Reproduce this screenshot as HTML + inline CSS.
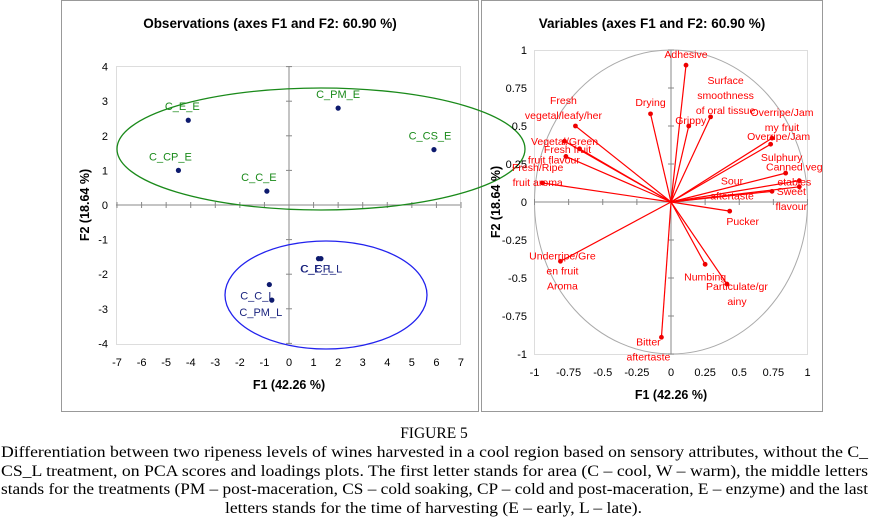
<!DOCTYPE html>
<html><head><meta charset="utf-8"><style>
body{margin:0;background:#fff;width:869px;height:523px;overflow:hidden}
svg{display:block;font-family:"Liberation Sans",Arial,sans-serif}
</style></head><body>
<svg id="s" width="869" height="523" viewBox="0 0 869 523">
<rect x="61.5" y="0.5" width="417" height="411" fill="none" stroke="#999"/>
<rect x="481.5" y="0.5" width="341" height="411" fill="none" stroke="#999"/>
<text x="270" y="28" font-size="13.5" font-weight="bold" text-anchor="middle">Observations (axes F1 and F2: 60.90 %)</text>
<text x="652" y="28" font-size="13.5" font-weight="bold" text-anchor="middle">Variables (axes F1 and F2: 60.90 %)</text>
<g id="L"></g><g id="R"></g>
<g font-family="'Liberation Serif',serif" font-size="15.5" fill="#000">
<text x="434" y="438" text-anchor="middle">FIGURE 5</text>
<text x="1" y="457" textLength="867" lengthAdjust="spacingAndGlyphs">Differentiation between two ripeness levels of wines harvested in a cool region based on sensory attributes, without the C_</text>
<text x="1" y="476" textLength="867" lengthAdjust="spacingAndGlyphs">CS_L treatment, on PCA scores and loadings plots. The first letter stands for area (C – cool, W – warm), the middle letters</text>
<text x="1" y="494" textLength="867" lengthAdjust="spacingAndGlyphs">stands for the treatments (PM – post-maceration, CS – cold soaking, CP – cold and post-maceration, E – enzyme) and the last</text>
<text x="225" y="513" textLength="417" lengthAdjust="spacingAndGlyphs">letters stands for the time of harvesting (E – early, L – late).</text>
</g>
</svg>
<script>
// Observations data
const obsNames=["C_E_E","C_CP_E","C_C_E","C_PM_E","C_CS_E","C_CP_L","C_E_L","C_C_L","C_PM_L"];
const obsF1=[-4.1,-4.5,-0.9,2.0,5.9,1.2,1.3,-0.8,-0.7];
const obsF2=[2.45,1.0,0.4,2.8,1.6,-1.55,-1.55,-2.3,-2.75];
const obsGroup=["E","E","E","E","E","L","L","L","L"];
const obsXTicks=[-7,-6,-5,-4,-3,-2,-1,0,1,2,3,4,5,6,7];
const obsYTicks=[-4,-3,-2,-1,0,1,2,3,4];
// Variables data
const varNames=["Adhesive","Drying","Grippy","Surface smoothness of oral tissue","Overripe/Jammy fruit","Fresh vegetal/leafy/herb","Vegetal","Fresh fruit","Fruit flavour","Fresh/Ripe fruit aroma","Underripe/Green fruit Aroma","Bitter aftertaste","Numbing","Particulate/grainy","Pucker","Canned vegetables","Sweet","Sour aftertaste","Sulphury","Overripe/Jam"];
const varF1=[0.11,-0.15,0.13,0.29,0.74,-0.70,-0.78,-0.67,-0.77,-0.94,-0.81,-0.07,0.25,0.41,0.43,0.94,0.94,0.74,0.84,0.73];
const varF2=[0.90,0.58,0.50,0.56,0.42,0.50,0.40,0.35,0.30,0.125,-0.39,-0.89,-0.41,-0.54,-0.06,0.14,0.10,0.07,0.19,0.38];
const varTicks=[-1,-0.75,-0.5,-0.25,0,0.25,0.5,0.75,1];
const NS="http://www.w3.org/2000/svg";
function mk(p,t,a){const e=document.createElementNS(NS,t);for(const k in a)e.setAttribute(k,a[k]);p.appendChild(e);return e;}
// left axes
const lx=v=>289+v*24.57, ly=v=>205-v*34.6;
const L=document.getElementById('L');
let e=mk(L,'rect',{x:116.5,y:66.5,width:344,height:278,fill:'none',stroke:'#ddd'});

mk(L,'line',{x1:116,x2:460,y1:ly(0),y2:ly(0),stroke:'#888'});
mk(L,'line',{x1:lx(0),x2:lx(0),y1:66,y2:344,stroke:'#888'});
obsXTicks.forEach(t=>{mk(L,'line',{x1:lx(t),x2:lx(t),y1:ly(0)-3,y2:ly(0)+3,stroke:'#888'});
 const tx=mk(L,'text',{x:lx(t),y:366,'font-size':11,'text-anchor':'middle'});tx.textContent=t;
 });
obsYTicks.forEach(t=>{mk(L,'line',{x1:lx(0)-3,x2:lx(0)+3,y1:ly(t),y2:ly(t),stroke:'#888'});
 const tx=mk(L,'text',{x:108,y:ly(t)+4,'font-size':11,'text-anchor':'end'});tx.textContent=t;
 });
e=mk(L,'text',{x:289,y:389,'font-size':12.5,'font-weight':'bold','text-anchor':'middle'});e.textContent='F1 (42.26 %)';

e=mk(L,'text',{x:0,y:0,'font-size':12.5,'font-weight':'bold','text-anchor':'middle',transform:'translate(89,205) rotate(-90)'});e.textContent='F2 (18.64 %)';

e=mk(L,'ellipse',{cx:321,cy:149,rx:204,ry:61,fill:'none',stroke:'#1a8a1a','stroke-width':1.3});

e=mk(L,'ellipse',{cx:326,cy:295,rx:101,ry:54,fill:'none',stroke:'#2222ee','stroke-width':1.3});

const lblOff={"C_E_E":[-6,-10],"C_CP_E":[-8,-10],"C_C_E":[-8,-10],"C_PM_E":[0,-10],"C_CS_E":[-4,-10],"C_CP_L":[3,14],"C_E_L":[-4,14],"C_C_L":[-12,15],"C_PM_L":[-11,16]};
obsNames.forEach((n,i)=>{const c=obsGroup[i]=="E"?'#1a8a1a':'#1a237e';
 const p=mk(L,'circle',{cx:lx(obsF1[i]),cy:ly(obsF2[i]),r:2.6,fill:'#0d1a6e'});
 
 const o=lblOff[n];const t=mk(L,'text',{x:lx(obsF1[i])+o[0],y:ly(obsF2[i])+o[1],'font-size':11,fill:c,'text-anchor':'middle'});t.textContent=n;
 });
// right axes
const rx=v=>671+v*136.5, ry=v=>202-v*152;
const R=document.getElementById('R');
e=mk(R,'rect',{x:534.5,y:50.5,width:273,height:304,fill:'none',stroke:'#ddd'});

e=mk(R,'ellipse',{cx:rx(0),cy:ry(0),rx:136.5,ry:152,fill:'none',stroke:'#aaa'});

mk(R,'line',{x1:534,x2:807,y1:ry(0),y2:ry(0),stroke:'#888'});
mk(R,'line',{x1:rx(0),x2:rx(0),y1:50,y2:354,stroke:'#888'});
varTicks.forEach(t=>{mk(R,'line',{x1:rx(t),x2:rx(t),y1:ry(0)-3,y2:ry(0)+3,stroke:'#888'});
 mk(R,'line',{x1:rx(0)-3,x2:rx(0)+3,y1:ry(t),y2:ry(t),stroke:'#888'});
 let tx=mk(R,'text',{x:rx(t),y:376,'font-size':11,'text-anchor':'middle'});tx.textContent=t;
 
 tx=mk(R,'text',{x:527,y:ry(t)+4,'font-size':11,'text-anchor':'end'});tx.textContent=t;
 });
e=mk(R,'text',{x:671,y:399,'font-size':12.5,'font-weight':'bold','text-anchor':'middle'});e.textContent='F1 (42.26 %)';

e=mk(R,'text',{x:0,y:0,'font-size':12.5,'font-weight':'bold','text-anchor':'middle',transform:'translate(500,202) rotate(-90)'});e.textContent='F2 (18.64 %)';

const vLab={"Adhesive":[["Adhesive"],0,-7],"Drying":[["Drying"],0,-8],"Grippy":[["Grippy"],2,-2],"Surface smoothness of oral tissue":[["Surface","smoothness","of oral tissue"],15,-33],
"Overripe/Jammy fruit":[["Overripe/Jam","my fruit"],10,-22],"Fresh vegetal/leafy/herb":[["Fresh","vegetal/leafy/her"],-12,-22],"Vegetal":[["Vegetal/Green"],0,4],
"Fresh fruit":[["Fresh fruit"],-12,4],"Fruit flavour":[["fruit flavour"],-12,7],"Fresh/Ripe fruit aroma":[["Fresh/Ripe","fruit aroma"],-5,-12],
"Underripe/Green fruit Aroma":[["Underripe/Gre","en fruit","Aroma"],2,-2],"Bitter aftertaste":[["Bitter","aftertaste"],-13,8],"Numbing":[["Numbing"],0,16],
"Particulate/grainy":[["Particulate/gr","ainy"],10,6],"Pucker":[["Pucker"],13,14],"Canned vegetables":[["Canned veg","etables"],-5,-10],"Sweet":[["Sweet","flavour"],-8,8],
"Sour aftertaste":[["Sour","aftertaste"],-40,-7],"Sulphury":[["Sulphury"],-4,-12],"Overripe/Jam":[["Overripe/Jam"],8,-4]};
varNames.forEach((n,i)=>{const x=rx(varF1[i]),y=ry(varF2[i]);
 const l=mk(R,'line',{x1:rx(0),y1:ry(0),x2:x,y2:y,stroke:'#f00','stroke-width':1.2});
 
 const p=mk(R,'circle',{cx:x,cy:y,r:2.4,fill:'#e00'});
 
 const d=vLab[n];const t=mk(R,'text',{x:x+d[1],y:y+d[2],'font-size':10.5,fill:'#f00','text-anchor':'middle'});
 
 d[0].forEach((s,k)=>{const ts=mk(t,'tspan',{x:x+d[1],dy:k?15:0});ts.textContent=s;});});
</script>
</body></html>
